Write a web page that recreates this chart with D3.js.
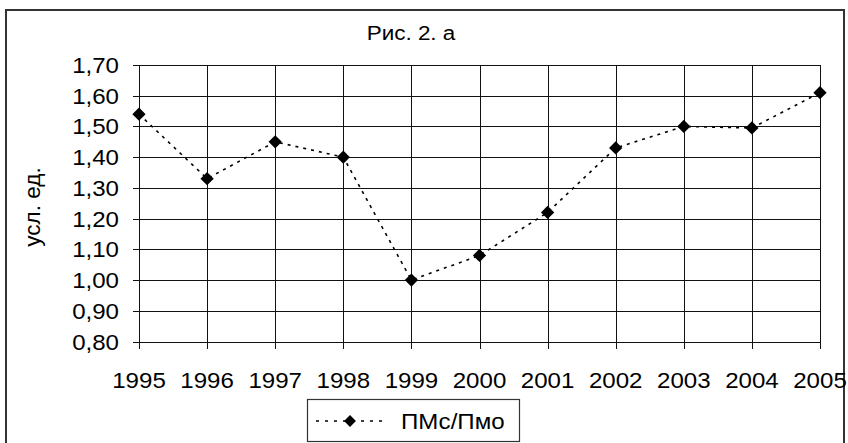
<!DOCTYPE html>
<html><head><meta charset="utf-8">
<script src="https://cdn.jsdelivr.net/npm/d3@7"></script>
<style>
html,body{margin:0;padding:0;background:#fff;}
svg{display:block;font-family:Arial,"Liberation Sans",sans-serif;}
</style></head>
<body>
<svg id="chart" width="848" height="443"></svg>
<script>
const years = ["1995","1996","1997","1998","1999","2000","2001","2002","2003","2004","2005"];
const values = [1.54, 1.33, 1.45, 1.40, 1.00, 1.08, 1.22, 1.43, 1.50, 1.495, 1.61];
const yTicks = [0.8, 0.9, 1.0, 1.1, 1.2, 1.3, 1.4, 1.5, 1.6, 1.7];
const seriesName = "ПМс/Пмо";
const title = "Рис. 2. а";
const yTitle = "усл. ед.";

const svg = d3.select("#chart");
const x = d3.scalePoint().domain(years).range([139, 820]);
const y = d3.scaleLinear().domain([0.8, 1.7]).range([341.5, 65]);
const fmt = v => d3.format(".2f")(v).replace(".", ",");
const stretch = 1.07;

// outer frame
svg.append("rect").attr("x", 6).attr("y", 10).attr("width", 838).attr("height", 440)
  .attr("fill", "none").attr("stroke", "#333").attr("stroke-width", 2);

// title
svg.append("text").attr("transform", `translate(411,40) scale(${stretch},1)`).attr("text-anchor", "middle")
  .attr("font-size", 21).attr("fill", "#000").text(title);

// grid
const g = svg.append("g").attr("shape-rendering", "crispEdges");
g.selectAll("line.h").data(yTicks).join("line")
  .attr("x1", x.range()[0] - 6).attr("x2", x.range()[1])
  .attr("y1", d => Math.round(y(d)) + 0.5).attr("y2", d => Math.round(y(d)) + 0.5)
  .attr("stroke", "#111").attr("stroke-width", 1);
g.selectAll("line.v").data(years).join("line")
  .attr("x1", d => Math.round(x(d)) + 0.5).attr("x2", d => Math.round(x(d)) + 0.5)
  .attr("y1", y(1.7)).attr("y2", y(0.8) + 7)
  .attr("stroke", "#111").attr("stroke-width", 1);

// y tick labels
svg.append("g").selectAll("text").data(yTicks).join("text")
  .attr("transform", d => `translate(119,${y(d) + 8}) scale(${stretch},1)`).attr("text-anchor", "end")
  .attr("font-size", 22.5).attr("fill", "#000").text(fmt);

// x tick labels
svg.append("g").selectAll("text").data(years).join("text")
  .attr("transform", d => `translate(${x(d)},388) scale(${stretch},1)`).attr("text-anchor", "middle")
  .attr("font-size", 22.5).attr("fill", "#000").text(d => d);

// y axis title
svg.append("text").attr("transform", "translate(40,207) rotate(-90)")
  .attr("text-anchor", "middle").attr("font-size", 22.5).attr("fill", "#000").text(yTitle);

// series line
const line = d3.line().x((d, i) => x(years[i])).y(d => y(d));
svg.append("path").datum(values).attr("d", line)
  .attr("fill", "none").attr("stroke", "#000").attr("stroke-width", 1.6)
  .attr("stroke-dasharray", "3,5");

const marker = d3.symbol().type(d3.symbolSquare).size(88)();
svg.append("g").selectAll("path").data(values).join("path")
  .attr("transform", (d, i) => `translate(${x(years[i])},${y(d)}) rotate(45)`)
  .attr("d", marker)
  .attr("fill", "#000");

// legend
const lg = svg.append("g");
lg.append("rect").attr("x", 307.5).attr("y", 399.5).attr("width", 212).attr("height", 42)
  .attr("fill", "#fff").attr("stroke", "#333").attr("stroke-width", 1.2);
lg.append("line").attr("x1", 316).attr("x2", 386).attr("y1", 421).attr("y2", 421)
  .attr("stroke", "#000").attr("stroke-width", 1.6).attr("stroke-dasharray", "3,6");
lg.append("path").attr("transform", "translate(350,421) rotate(45)")
  .attr("d", d3.symbol().type(d3.symbolSquare).size(70)()).attr("fill", "#000");
lg.append("text").attr("transform", `translate(401,429) scale(${stretch},1)`)
  .attr("font-size", 22.5).attr("fill", "#000").text(seriesName);
</script>
</body></html>
